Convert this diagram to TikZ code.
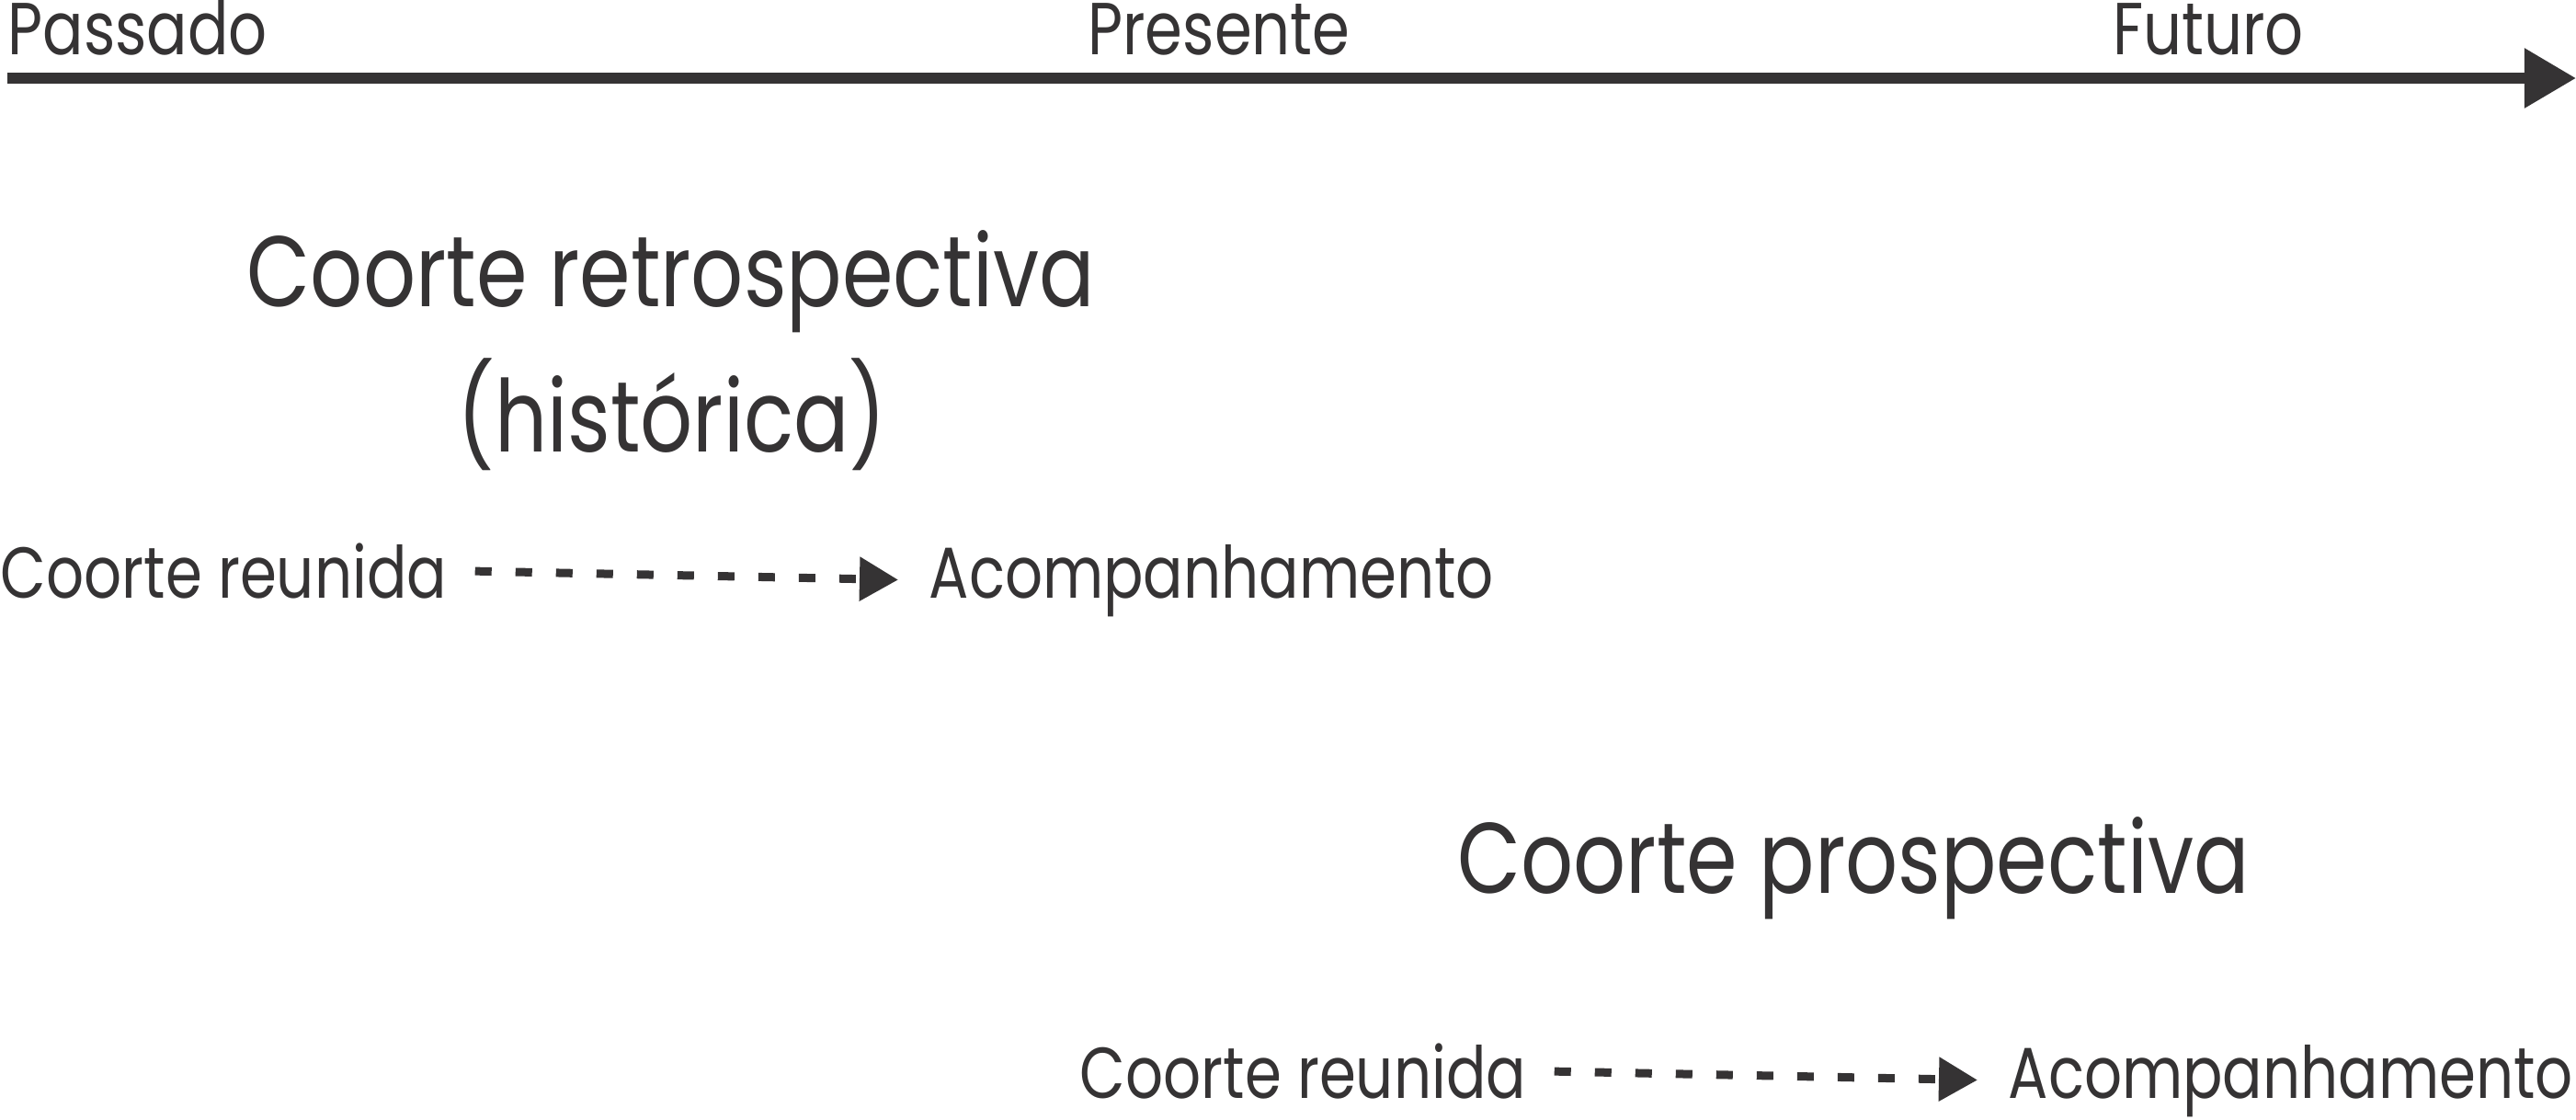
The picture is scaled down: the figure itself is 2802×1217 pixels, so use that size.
\documentclass[tikz,border=0pt]{standalone}
\usepackage{fontspec}
\setmainfont{Poppins}[FakeStretch=0.82]
\usepackage{tikz}
\usetikzlibrary{arrows.meta, positioning}
\definecolor{ink}{RGB}{53, 51, 52}

\begin{document}
\begin{tikzpicture}[x=0.01cm, y=-0.01cm, every node/.style={inner sep=0pt, text=ink},
  when/.style={font=\fontsize{22.8}{27}\selectfont},
  study/.style={font=\fontsize{31}{37}\selectfont},
  stage/.style={font=\fontsize{22.3}{27}\selectfont, anchor=base west},
  follow/.style={draw=ink, line width=0.09cm, dash pattern=on 0.18cm off 0.26cm,
        shorten <=0.3cm, shorten >=0.33cm, -{Triangle[length=0.42cm, width=0.46cm]}}]
  \useasboundingbox (0,0) rectangle (2802,1217);
  % time axis
  \coordinate (past) at (8,85);
  \coordinate (future) at (2802,85);
  \draw[ink, line width=0.12cm, -{Triangle[length=0.56cm, width=0.62cm]}] (past)--(future);
  \node[when, anchor=base west] (passado) at (8,59) {Passado};
  \node[when, anchor=base] (presente) at (1326,59) {Presente};
  \node[when, anchor=base] (futuro) at (2402,59) {Futuro};
  % retrospective cohort
  \node[study, anchor=base] (retro) at (730,333) {Coorte retrospectiva};
  \node[study, anchor=base] (hist) at (731,491) {(histórica)};
  \node[stage] (reun1) at (0,650) {Coorte reunida};
  \node[stage] (acomp1) at (1010,650) {Acompanhamento};
  \draw[follow] (reun1.east)--(acomp1.west);
  % prospective cohort
  \node[study, anchor=base] (prosp) at (2016,971) {Coorte prospectiva};
  \node[stage] (reun2) at (1174,1194) {Coorte reunida};
  \node[stage] (acomp2) at (2184,1194) {Acompanhamento};
  \draw[follow] (reun2.east)--(acomp2.west);
\end{tikzpicture}
\end{document}
